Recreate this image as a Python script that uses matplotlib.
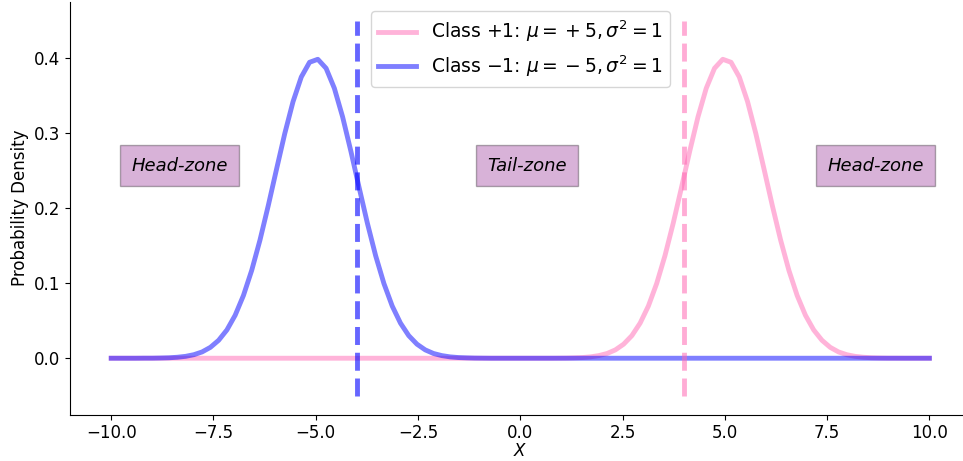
import numpy as np
import matplotlib
matplotlib.use("Agg")
import matplotlib.pyplot as plt

# sample grid (100 points from -10 to 10)
x = np.linspace(-10, 10, 100)

# density, class -1 (centred at -5)
dens_neg = [
    0.0000, 0.0000, 0.0000, 0.0000, 0.0001, 0.0001, 0.0003, 0.0006, 0.0013, 0.0025,
    0.0047, 0.0084, 0.0145, 0.0239, 0.0377, 0.0573, 0.0836, 0.1171, 0.1574, 0.2032,
    0.2517, 0.2994, 0.3419, 0.3748, 0.3944, 0.3984, 0.3864, 0.3598, 0.3216, 0.2759,
    0.2273, 0.1798, 0.1365, 0.0995, 0.0696, 0.0468, 0.0301, 0.0187, 0.0111, 0.0063,
    0.0035, 0.0018, 0.0009, 0.0005, 0.0002, 0.0001, 0.0000, 0.0000, 0.0000, 0.0000,
    0.0000, 0.0000, 0.0000, 0.0000, 0.0000, 0.0000, 0.0000, 0.0000, 0.0000, 0.0000,
    0.0000, 0.0000, 0.0000, 0.0000, 0.0000, 0.0000, 0.0000, 0.0000, 0.0000, 0.0000,
    0.0000, 0.0000, 0.0000, 0.0000, 0.0000, 0.0000, 0.0000, 0.0000, 0.0000, 0.0000,
    0.0000, 0.0000, 0.0000, 0.0000, 0.0000, 0.0000, 0.0000, 0.0000, 0.0000, 0.0000,
    0.0000, 0.0000, 0.0000, 0.0000, 0.0000, 0.0000, 0.0000, 0.0000, 0.0000, 0.0000,
]

# class +1 (centred at +5)
dens_pos = [
    0.0000, 0.0000, 0.0000, 0.0000, 0.0000, 0.0000, 0.0000, 0.0000, 0.0000, 0.0000,
    0.0000, 0.0000, 0.0000, 0.0000, 0.0000, 0.0000, 0.0000, 0.0000, 0.0000, 0.0000,
    0.0000, 0.0000, 0.0000, 0.0000, 0.0000, 0.0000, 0.0000, 0.0000, 0.0000, 0.0000,
    0.0000, 0.0000, 0.0000, 0.0000, 0.0000, 0.0000, 0.0000, 0.0000, 0.0000, 0.0000,
    0.0000, 0.0000, 0.0000, 0.0000, 0.0000, 0.0000, 0.0000, 0.0000, 0.0000, 0.0000,
    0.0000, 0.0000, 0.0000, 0.0000, 0.0001, 0.0002, 0.0005, 0.0009, 0.0018, 0.0035,
    0.0063, 0.0111, 0.0187, 0.0301, 0.0468, 0.0696, 0.0995, 0.1365, 0.1798, 0.2273,
    0.2759, 0.3216, 0.3598, 0.3864, 0.3984, 0.3944, 0.3748, 0.3419, 0.2994, 0.2517,
    0.2032, 0.1574, 0.1171, 0.0836, 0.0573, 0.0377, 0.0239, 0.0145, 0.0084, 0.0047,
    0.0025, 0.0013, 0.0006, 0.0003, 0.0001, 0.0001, 0.0000, 0.0000, 0.0000, 0.0000,
]

labels = [r'Class $+1$: $\mu = {}+5, \sigma^2 = 1$',
          r'Class $-1$: $\mu = {}-5, \sigma^2 = 1$']
thresholds = [-4, 4]
zone_names = ['Head-zone', 'Tail-zone', 'Head-zone']
zone_x = [-9.5, -0.8, 7.5]

plt.rcParams['font.size'] = 12

fig = plt.figure(figsize=(9.63, 4.61), dpi=100)
ax = fig.add_axes([70.3 / 963, 46.5 / 461, 900 / 963, 412.7 / 461])

ax.plot(x, dens_pos, color='hotpink', alpha=0.5, lw=3.5, label=labels[0])
ax.plot(x, dens_neg, color='blue', alpha=0.5, lw=3.5, label=labels[1])

ax.vlines(thresholds[0], -0.05, 0.45, colors='blue', alpha=0.6, lw=3.5, linestyles='dashed')
ax.vlines(thresholds[1], -0.05, 0.45, colors='hotpink', alpha=0.55, lw=3.5, linestyles='dashed')

for name, zx in zip(zone_names, zone_x):
    ax.text(zx, 0.25, name, fontsize=13, style='italic',
            bbox=dict(facecolor='purple', alpha=0.3, pad=8))

ax.set_xlim(-11, 11)
ax.set_ylim(-0.075, 0.475)
ax.set_xlabel('$X$', labelpad=0)
ax.set_ylabel('Probability Density')
ax.legend(loc='upper center', fontsize=13.5)
ax.spines['top'].set_visible(False)
ax.spines['right'].set_visible(False)

fig.savefig('out.png', dpi=100)
